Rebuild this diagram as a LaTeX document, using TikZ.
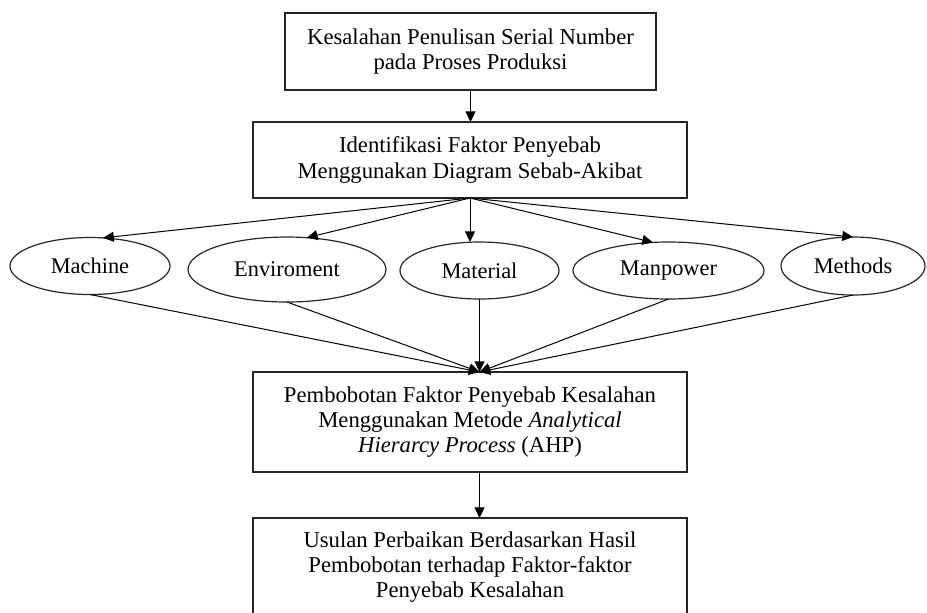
\documentclass[tikz,border=0pt]{standalone}
\usepackage{fontspec}
\setmainfont{Liberation Serif}
\usetikzlibrary{arrows.meta,shapes.geometric}
\begin{document}
\begin{tikzpicture}[x=0.75pt,y=-0.75pt,
  txt/.style={font=\fontsize{17pt}{19pt}\selectfont},
  box/.style={txt, draw=black!85, line width=1pt, rectangle, align=center, inner sep=0pt, outer sep=0pt},
  oval/.style={font=\fontsize{16.8pt}{19pt}\selectfont, draw=black!85, line width=0.9pt, ellipse, inner sep=0pt, outer sep=0pt},
  conn/.style={-{Triangle[length=8pt,width=7.5pt]}, line width=0.75pt}]
\useasboundingbox (0,0) rectangle (927,612);
\clip (0,0) rectangle (927,612);

\node[box, minimum width=278.25pt, minimum height=57.75pt] (b1) at (470.5,51.5)
  {Kesalahan Penulisan Serial Number\\pada Proses Produksi};
\node[box, minimum width=325.5pt, minimum height=57pt] (b2) at (470,160)
  {Identifikasi Faktor Penyebab\\Menggunakan Diagram Sebab-Akibat};

\node[oval, minimum width=120pt, minimum height=42.75pt] (mach) at (90,266) {Machine};
\node[oval, minimum width=148.5pt, minimum height=48.75pt] (env) at (287,269.5) {Enviroment};
\node[oval, minimum width=119.25pt, minimum height=42.75pt] (mat) at (479.5,270.5) {Material};
\node[oval, minimum width=143.25pt, minimum height=42.75pt] (man) at (668.5,270.5) {Manpower};
\node[oval, minimum width=108pt, minimum height=43.5pt] (meth) at (853,266) {Methods};

\node[box, minimum width=325.5pt, minimum height=75pt] (b3) at (470,422)
  {Pembobotan Faktor Penyebab Kesalahan\\Menggunakan Metode \textit{Analytical}\\\textit{Hierarcy Process} (AHP)};
\node[box, minimum width=325.5pt, minimum height=73.5pt] (b4) at (470,567)
  {Usulan Perbaikan Berdasarkan Hasil\\Pembobotan terhadap Faktor-faktor\\Penyebab Kesalahan};

\draw[conn] (b1.south) -- (b1.south |- b2.north);
\draw[conn] (b2.south) -- (mach.65);
\draw[conn] (b2.south) -- (env.58);
\draw[conn] (b2.south) -- (b2.south |- mat.north);
\draw[conn] (b2.south) -- (man.119);
\draw[conn] (b2.south) -- (meth.north);

\draw[conn] (mach.south) -- (mat.south |- b3.north);
\draw[conn] (env.south) -- (mat.south |- b3.north);
\draw[conn] (mat.south) -- (mat.south |- b3.north);
\draw[conn] (man.south) -- (mat.south |- b3.north);
\draw[conn] (meth.south) -- (mat.south |- b3.north);

\draw[conn] (mat.south |- b3.south) -- (mat.south |- b4.north);
\end{tikzpicture}
\end{document}
